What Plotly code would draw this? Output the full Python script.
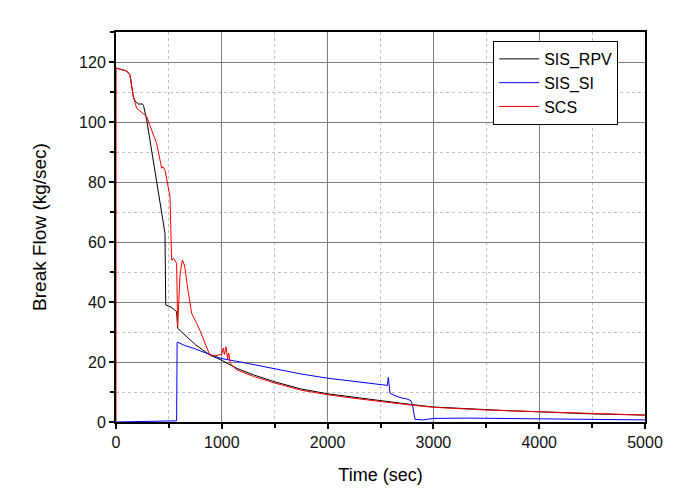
import plotly.graph_objects as go

# SIS_RPV (black)
t_rpv = [0, 50, 100, 132, 150, 164, 180, 211, 250, 260, 290, 330, 370, 416, 432, 463, 470, 520, 573, 583,
         620, 668, 750, 888, 992, 1141, 1300, 1500, 1750, 2000, 2250, 2500, 2750, 3000, 3250, 3500, 3750,
         4000, 4250, 4500, 4750, 5000]
f_rpv = [118, 117.5, 117, 115.7, 112, 108.4, 107, 106, 106, 105.5, 100.7, 92, 83, 74, 69.6, 62.9, 39, 38.3, 36.8, 31.2,
         30, 28.4, 25.8, 22.3, 20.7, 17.9, 15.7, 13.4, 11.0, 9.4, 8.2, 7.1, 6.0, 5.0, 4.5, 4.1, 3.7,
         3.4, 3.0, 2.7, 2.5, 2.3]

# SIS_SI (blue)
t_si = [0, 300, 573, 578, 583, 650, 731, 850, 992, 1250, 1500, 1750, 2000, 2250, 2527, 2565, 2574, 2582, 2590,
        2637, 2700, 2747, 2788, 2800, 2826, 2905, 2999, 3314, 3700, 4102, 4500, 5000]
f_si = [0, 0.2, 0.4, 26.6, 26.6, 25.5, 24.6, 23, 21.2, 19.5, 17.8, 16, 14.6, 13.5, 12.3, 12.2, 14.9, 10.5, 9.6,
        8.8, 8.0, 7.7, 7.1, 6, 0.9, 0.7, 1.2, 1.3, 1.2, 1.0, 0.9, 0.7]

# SCS (red)
t_scs = [0, 1, 50, 100, 132, 164, 195, 258, 290, 340, 384, 432, 445, 463, 479, 510, 526, 545, 573, 583,
         605, 627, 640, 652, 680, 715, 762, 800, 850, 888, 930, 983, 1000, 1014, 1025, 1040, 1055, 1065,
         1080, 1109, 1141, 1300, 1500, 1750, 2000, 2250, 2500, 2750, 3000, 3250, 3500, 3750, 4000, 4250,
         4500, 4750, 5000]
f_scs = [0, 118, 117.5, 117, 115.7, 108.4, 104.6, 102.9, 101.8, 97, 92.9, 84.6, 85, 84, 81.2, 75.1, 54, 54.5, 52.9, 31.8,
         49, 54, 53, 51.2, 44, 36.2, 32.9, 30, 25.5, 22.3, 22, 22.3, 22.6, 24.6, 22.5, 25.1, 21, 23,
         19.5, 18.4, 17.4, 15.2, 13.0, 10.6, 9.1, 7.9, 6.8, 5.8, 4.9, 4.4, 4.0, 3.7, 3.4, 3.1,
         2.8, 2.6, 2.3]

FONT = "Arial, Liberation Sans, sans-serif"

fig = go.Figure()
fig.add_trace(go.Scatter(x=t_rpv, y=f_rpv, mode="lines", name="SIS_RPV",
                         line=dict(color="black", width=1)))
fig.add_trace(go.Scatter(x=t_si, y=f_si, mode="lines", name="SIS_SI",
                         line=dict(color="#0000ff", width=1)))
fig.add_trace(go.Scatter(x=t_scs, y=f_scs, mode="lines", name="SCS",
                         line=dict(color="#ff0000", width=1)))

axis_common = dict(
    showline=True, linecolor="black", linewidth=2, mirror=True,
    ticks="outside", ticklen=5, tickwidth=2, tickcolor="black",
    showgrid=True, gridcolor="#808080", gridwidth=1,
    zeroline=False, automargin=False,
    tickfont=dict(family=FONT, size=16, color="#111"),
)

fig.update_xaxes(**axis_common, range=[0, 5000], dtick=1000, tick0=0,
                 minor=dict(dtick=500, showgrid=True, gridcolor="#c0c0c0", griddash="dot",
                            ticks="outside", ticklen=4, tickcolor="black", tickwidth=2),
                 title=dict(text="Time (sec)", font=dict(family=FONT, size=18, color="black"), standoff=18))
fig.update_yaxes(**axis_common, range=[0, 130], dtick=20, tick0=0,
                 minor=dict(dtick=10, showgrid=True, gridcolor="#c0c0c0", griddash="dot",
                            ticks="outside", ticklen=4, tickcolor="black", tickwidth=2),
                 title=dict(text="Break Flow (kg/sec)", font=dict(family=FONT, size=19, color="black"), standoff=27))

fig.update_layout(
    width=680, height=492,
    margin=dict(l=116, r=35, t=32, b=70),
    paper_bgcolor="white", plot_bgcolor="white",
    font=dict(family=FONT),
    legend=dict(x=0.713, y=0.977, xanchor="left", yanchor="top",
                bgcolor="white", bordercolor="black", borderwidth=1,
                font=dict(family=FONT, size=16, color="black"),
                tracegroupgap=0, itemwidth=40),
)

fig.write_html("out.html")
